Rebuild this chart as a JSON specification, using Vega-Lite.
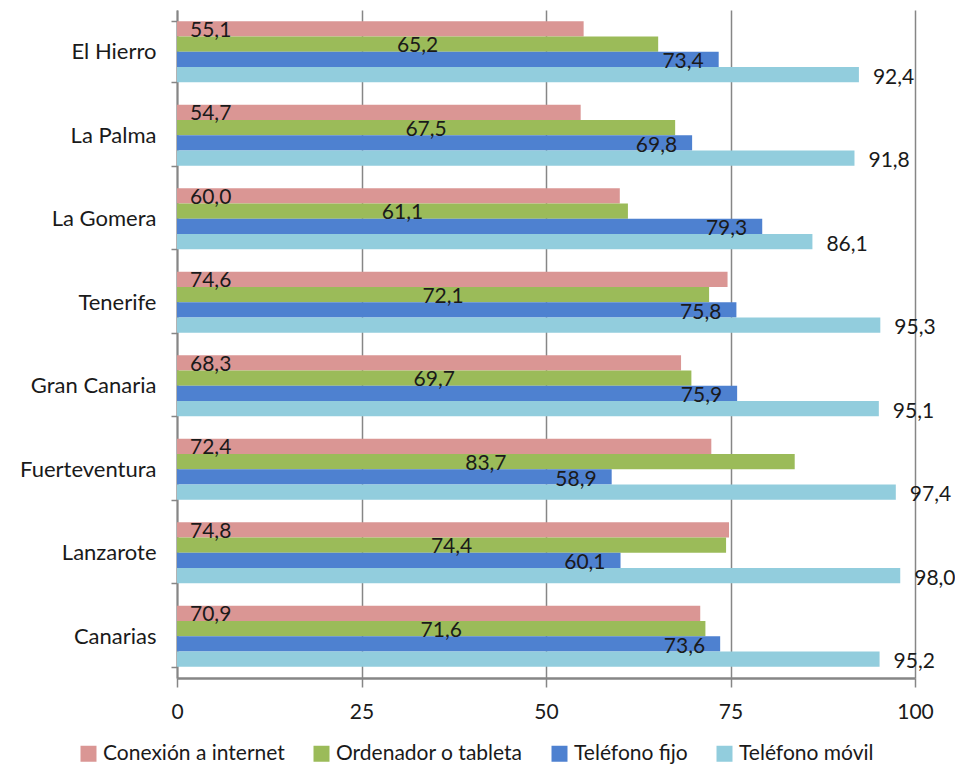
{
  "$schema": "https://vega.github.io/schema/vega-lite/v6.json",
  "width": 738,
  "height": 668,
  "autosize": {"type": "none"},
  "padding": {"left": 177, "top": 10, "right": 40, "bottom": 88},
  "background": "white",
  "config": {
    "font": "Lato",
    "view": {"stroke": null},
    "axis": {"labelFont": "Lato", "labelColor": "#1a1a1a"},
    "legend": {"labelFont": "Lato", "labelColor": "#1a1a1a"}
  },
  "data": {
    "values": [
      {"c": "El Hierro", "s": "Conexión a internet", "v": 55.1, "t": "55,1"},
      {"c": "El Hierro", "s": "Ordenador o tableta", "v": 65.2, "t": "65,2"},
      {"c": "El Hierro", "s": "Teléfono fijo", "v": 73.4, "t": "73,4"},
      {"c": "El Hierro", "s": "Teléfono móvil", "v": 92.4, "t": "92,4"},
      {"c": "La Palma", "s": "Conexión a internet", "v": 54.7, "t": "54,7"},
      {"c": "La Palma", "s": "Ordenador o tableta", "v": 67.5, "t": "67,5"},
      {"c": "La Palma", "s": "Teléfono fijo", "v": 69.8, "t": "69,8"},
      {"c": "La Palma", "s": "Teléfono móvil", "v": 91.8, "t": "91,8"},
      {"c": "La Gomera", "s": "Conexión a internet", "v": 60.0, "t": "60,0"},
      {"c": "La Gomera", "s": "Ordenador o tableta", "v": 61.1, "t": "61,1"},
      {"c": "La Gomera", "s": "Teléfono fijo", "v": 79.3, "t": "79,3"},
      {"c": "La Gomera", "s": "Teléfono móvil", "v": 86.1, "t": "86,1"},
      {"c": "Tenerife", "s": "Conexión a internet", "v": 74.6, "t": "74,6"},
      {"c": "Tenerife", "s": "Ordenador o tableta", "v": 72.1, "t": "72,1"},
      {"c": "Tenerife", "s": "Teléfono fijo", "v": 75.8, "t": "75,8"},
      {"c": "Tenerife", "s": "Teléfono móvil", "v": 95.3, "t": "95,3"},
      {"c": "Gran Canaria", "s": "Conexión a internet", "v": 68.3, "t": "68,3"},
      {"c": "Gran Canaria", "s": "Ordenador o tableta", "v": 69.7, "t": "69,7"},
      {"c": "Gran Canaria", "s": "Teléfono fijo", "v": 75.9, "t": "75,9"},
      {"c": "Gran Canaria", "s": "Teléfono móvil", "v": 95.1, "t": "95,1"},
      {"c": "Fuerteventura", "s": "Conexión a internet", "v": 72.4, "t": "72,4"},
      {"c": "Fuerteventura", "s": "Ordenador o tableta", "v": 83.7, "t": "83,7"},
      {"c": "Fuerteventura", "s": "Teléfono fijo", "v": 58.9, "t": "58,9"},
      {"c": "Fuerteventura", "s": "Teléfono móvil", "v": 97.4, "t": "97,4"},
      {"c": "Lanzarote", "s": "Conexión a internet", "v": 74.8, "t": "74,8"},
      {"c": "Lanzarote", "s": "Ordenador o tableta", "v": 74.4, "t": "74,4"},
      {"c": "Lanzarote", "s": "Teléfono fijo", "v": 60.1, "t": "60,1"},
      {"c": "Lanzarote", "s": "Teléfono móvil", "v": 98.0, "t": "98,0"},
      {"c": "Canarias", "s": "Conexión a internet", "v": 70.9, "t": "70,9"},
      {"c": "Canarias", "s": "Ordenador o tableta", "v": 71.6, "t": "71,6"},
      {"c": "Canarias", "s": "Teléfono fijo", "v": 73.6, "t": "73,6"},
      {"c": "Canarias", "s": "Teléfono móvil", "v": 95.2, "t": "95,2"}
    ]
  },
  "encoding": {
    "y": {
      "field": "c", "type": "nominal",
      "sort": ["El Hierro", "La Palma", "La Gomera", "Tenerife", "Gran Canaria", "Fuerteventura", "Lanzarote", "Canarias"],
      "scale": {"paddingInner": 0.27, "paddingOuter": 0.135},
      "title": null,
      "axis": {"domainColor": "#868686", "domainWidth": 2, "tickColor": "#868686", "tickWidth": 1.5, "tickSize": 6, "tickBand": "extent", "labelPadding": 15, "labelFontSize": 22, "labelLimit": 300, "grid": false}
    },
    "yOffset": {
      "field": "s", "type": "nominal",
      "scale": {"domain": ["Conexión a internet", "Ordenador o tableta", "Teléfono fijo", "Teléfono móvil"], "paddingInner": 0, "paddingOuter": 0}
    }
  },
  "layer": [
    {
      "mark": {"type": "bar"},
      "encoding": {
        "x": {
          "field": "v", "type": "quantitative",
          "scale": {"domain": [0, 100], "nice": false},
          "title": null,
          "axis": {"values": [0, 25, 50, 75, 100], "grid": true, "gridColor": "#868686", "gridWidth": 1.5, "domainColor": "#868686", "domainWidth": 2.5, "tickColor": "#868686", "tickWidth": 1.5, "tickSize": 9, "labelPadding": 14, "labelFontSize": 21, "labelFlush": false}
        },
        "color": {
          "field": "s", "type": "nominal",
          "scale": {"domain": ["Conexión a internet", "Ordenador o tableta", "Teléfono fijo", "Teléfono móvil"], "range": ["#DA9694", "#9BBB59", "#4E81D0", "#92CDDD"]},
          "legend": {"orient": "none", "direction": "horizontal", "legendX": -99, "legendY": 733, "title": null, "symbolType": "square", "symbolSize": 256, "symbolStrokeWidth": 0, "labelOffset": 4, "labelFontSize": 21, "labelLimit": 400, "columnPadding": 26}
        }
      }
    },
    {
      "transform": [{"filter": "datum.s === 'Conexión a internet'"}],
      "mark": {"type": "text", "align": "left", "baseline": "middle", "dx": 13, "dy": 2, "fontSize": 21, "color": "#1a1a1a"},
      "encoding": {
        "x": {"datum": 0, "type": "quantitative", "scale": {"domain": [0, 100], "nice": false}, "axis": null},
        "text": {"field": "t"}
      }
    },
    {
      "transform": [{"filter": "datum.s === 'Ordenador o tableta'"}],
      "mark": {"type": "text", "align": "center", "baseline": "middle", "dy": 2, "fontSize": 21, "color": "#1a1a1a"},
      "encoding": {
        "x": {"field": "v", "type": "quantitative", "scale": {"domain": [0, 200], "nice": false}, "axis": null},
        "text": {"field": "t"}
      }
    },
    {
      "transform": [{"filter": "datum.s === 'Teléfono fijo'"}],
      "mark": {"type": "text", "align": "right", "baseline": "middle", "dx": -15, "dy": 3, "fontSize": 21, "color": "#1a1a1a"},
      "encoding": {
        "x": {"field": "v", "type": "quantitative", "scale": {"domain": [0, 100], "nice": false}, "axis": null},
        "text": {"field": "t"}
      }
    },
    {
      "transform": [{"filter": "datum.s === 'Teléfono móvil'"}],
      "mark": {"type": "text", "align": "left", "baseline": "middle", "dx": 14, "dy": 3, "fontSize": 21, "color": "#1a1a1a"},
      "encoding": {
        "x": {"field": "v", "type": "quantitative", "scale": {"domain": [0, 100], "nice": false}, "axis": null},
        "text": {"field": "t"}
      }
    }
  ],
  "resolve": {"scale": {"x": "independent"}}
}
